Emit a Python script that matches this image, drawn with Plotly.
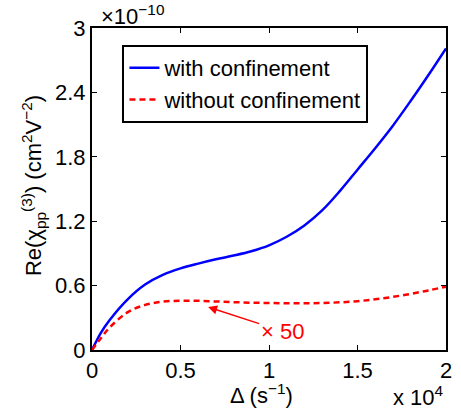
import plotly.graph_objects as go

# x in units of 1e4 s^-1, y in units of 1e-10 cm^2 V^-2
x_with = [0, 0.05, 0.1, 0.2, 0.3, 0.4, 0.5, 0.6, 0.7, 0.8, 0.9, 1.0, 1.1, 1.2, 1.3, 1.4, 1.5, 1.6, 1.7, 1.8, 1.9, 2.0]
y_with = [0, 0.16, 0.28, 0.47, 0.61, 0.70, 0.76, 0.805, 0.845, 0.88, 0.92, 0.975, 1.055, 1.16, 1.30, 1.48, 1.68, 1.88, 2.09, 2.32, 2.56, 2.81]

x_without = [0, 0.05, 0.1, 0.2, 0.3, 0.4, 0.5, 0.6, 0.7, 0.8, 0.9, 1.0, 1.1, 1.2, 1.3, 1.4, 1.5, 1.6, 1.7, 1.8, 1.9, 2.0]
y_without = [0, 0.11, 0.21, 0.35, 0.42, 0.45, 0.459, 0.458, 0.452, 0.446, 0.441, 0.438, 0.436, 0.436, 0.438, 0.444, 0.455, 0.472, 0.495, 0.523, 0.555, 0.59]

x_ticks = [0, 0.5, 1, 1.5, 2]
x_ticklabels = ["0", "0.5", "1", "1.5", "2"]
y_ticks = [0, 0.6, 1.2, 1.8, 2.4, 3]
y_ticklabels = ["0", "0.6", "1.2", "1.8", "2.4", "3"]

FONT = "Liberation Sans, Arial, Helvetica, sans-serif"
FS = 22

fig = go.Figure()
fig.add_trace(go.Scatter(x=x_with, y=y_with, mode="lines", name="with confinement",
                         line=dict(color="#0000ff", width=2.5, shape="spline", smoothing=1.0)))
fig.add_trace(go.Scatter(x=x_without, y=y_without, mode="lines", name="without confinement",
                         line=dict(color="#ff0000", width=2.5, dash="6px,4px", shape="spline", smoothing=1.0)))

axis_common = dict(showline=True, linecolor="black", linewidth=2, mirror="ticks",
                   ticks="inside", ticklen=5, tickwidth=1, tickcolor="black",
                   showgrid=False, zeroline=False,
                   tickfont=dict(family=FONT, size=FS, color="black"))

fig.update_xaxes(range=[0, 2], tickvals=x_ticks, ticktext=x_ticklabels, **axis_common)
fig.update_yaxes(range=[0, 3], tickvals=y_ticks, ticktext=y_ticklabels, **axis_common)

fig.update_layout(
    width=461, height=416,
    margin=dict(l=92, r=9, t=28, b=66),
    plot_bgcolor="white", paper_bgcolor="white",
    font=dict(family=FONT, size=FS, color="black"),
    showlegend=True,
    legend=dict(x=0.086, y=0.947, xanchor="left", yanchor="top",
                bordercolor="black", borderwidth=2, bgcolor="white",
                font=dict(family=FONT, size=FS, color="black"),
                itemwidth=30, tracegroupgap=0),
)

fig.add_annotation(xref="paper", yref="paper", x=0.02, y=1.0, xanchor="left", yanchor="bottom",
                   yshift=-3, text="×10<sup>−10</sup>", showarrow=False,
                   font=dict(family=FONT, size=FS, color="black"))
fig.add_annotation(xref="paper", yref="paper", x=1.0, y=-0.093, xanchor="right", yanchor="top",
                   text="x 10<sup>4</sup>", showarrow=False,
                   font=dict(family=FONT, size=FS, color="black"))
fig.add_annotation(xref="paper", yref="paper", x=0.48, y=-0.087, xanchor="center", yanchor="top",
                   text="Δ (s<sup>−1</sup>)", showarrow=False,
                   font=dict(family=FONT, size=FS, color="black"))
fig.add_annotation(xref="paper", yref="paper", x=-0.167, y=0.512, xanchor="center", yanchor="middle",
                   textangle=-90,
                   text="Re(χ<sub>pp</sub><sup>(3)</sup>) (cm<sup>2</sup>V<sup>−2</sup>)",
                   showarrow=False, font=dict(family=FONT, size=FS, color="black"))
fig.add_annotation(x=0.656, y=0.40, xref="x", yref="y", text="× 50",
                   showarrow=True, ax=74, ay=24, arrowhead=2, arrowsize=1.2, arrowwidth=1.5,
                   arrowcolor="#ff0000", font=dict(family=FONT, size=FS, color="#ff0000"))

fig.write_html("out.html")
